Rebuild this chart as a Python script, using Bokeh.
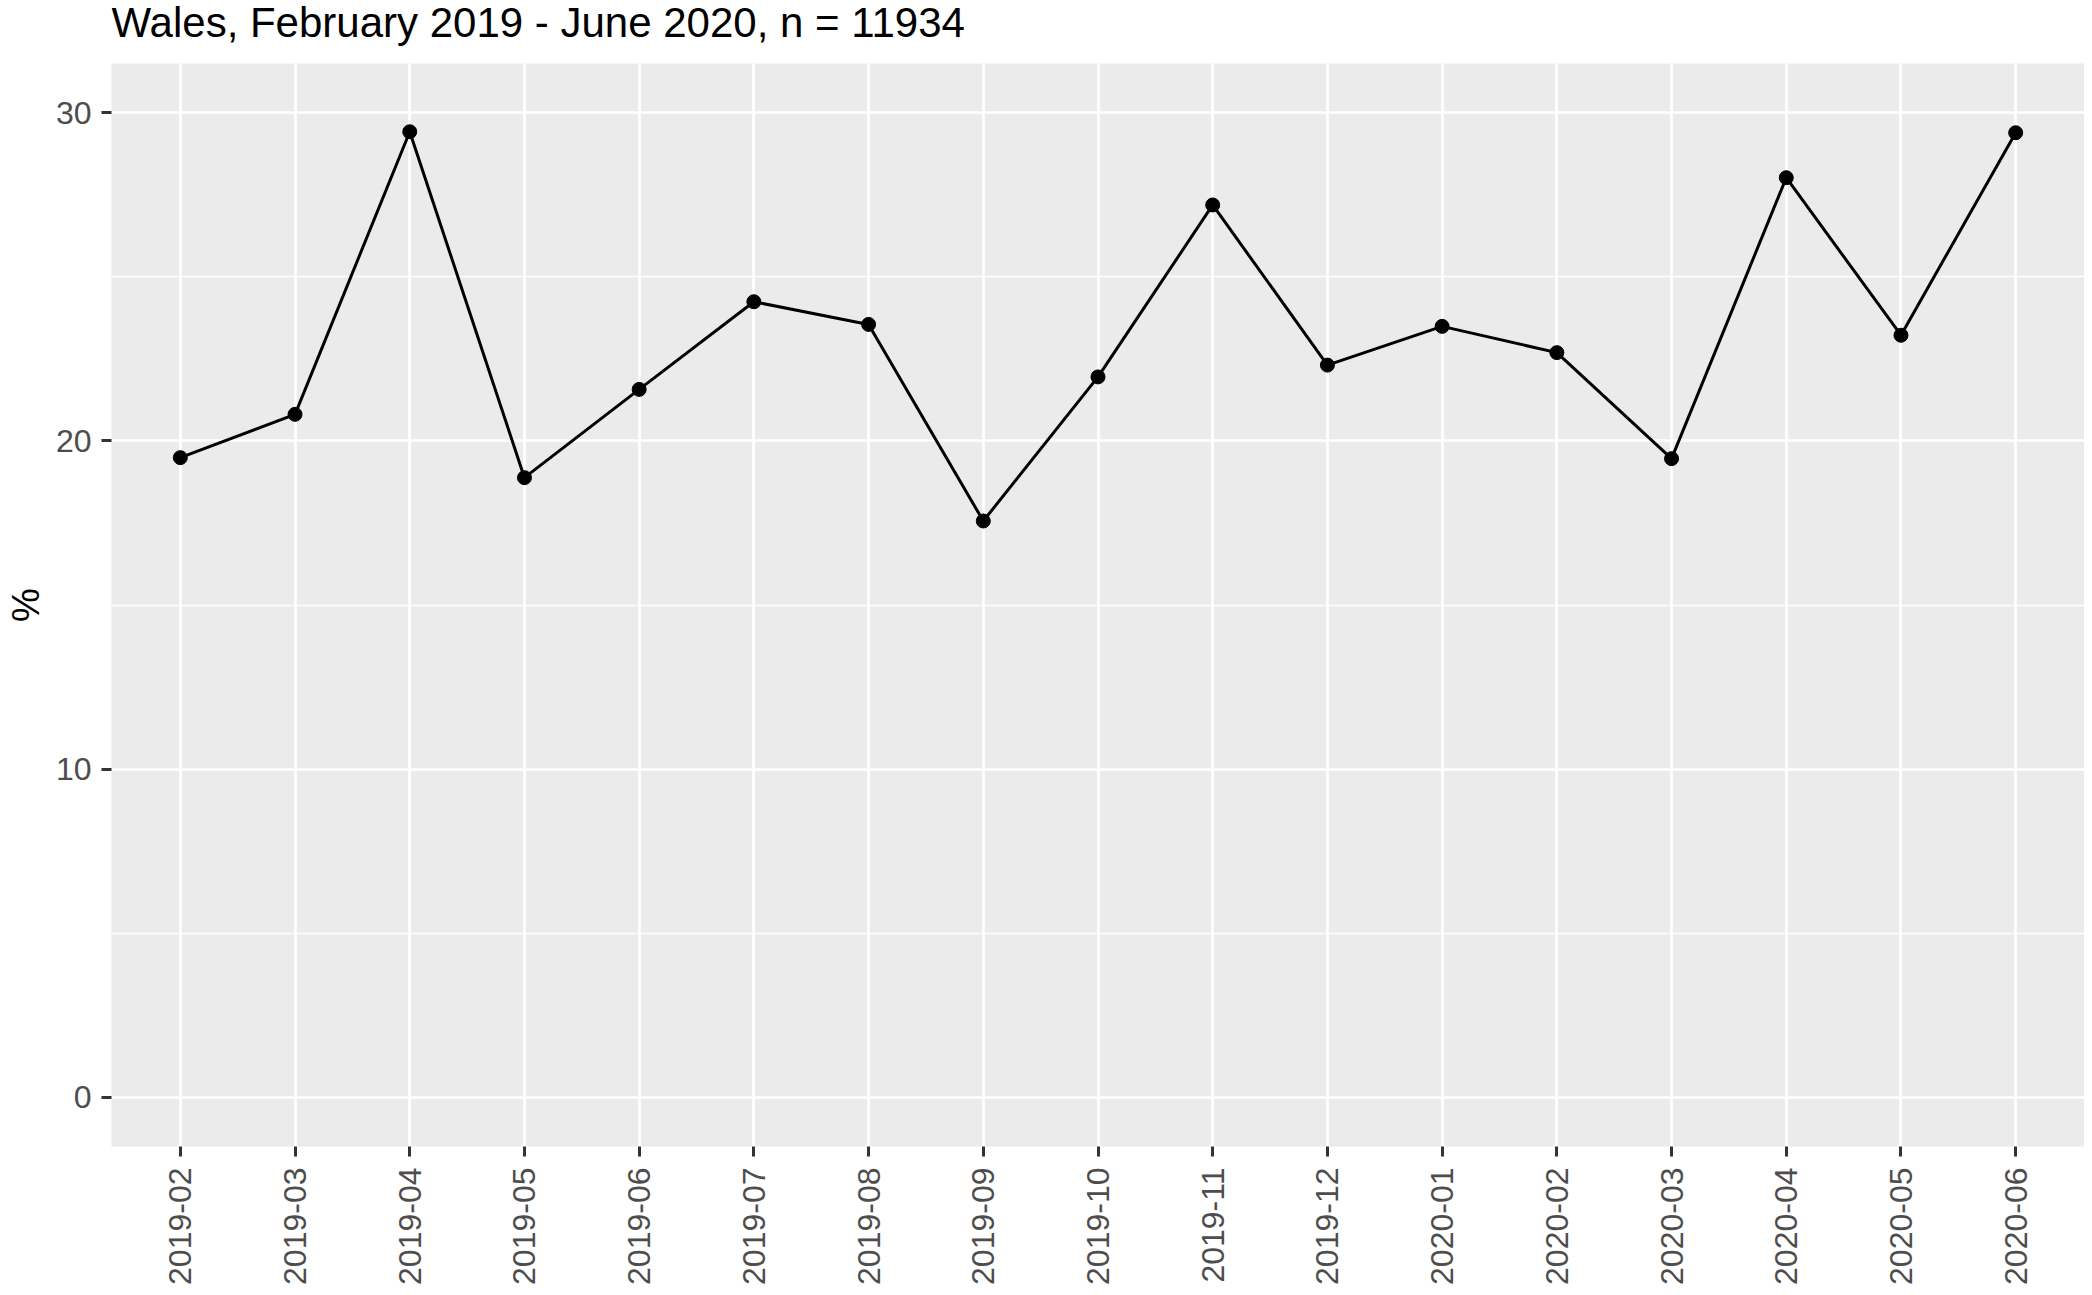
import math
from bokeh.plotting import figure
from bokeh.layouts import column
from bokeh.models import FactorRange, Range1d, FixedTicker
from bokeh.core.properties import value
from bokeh.embed import file_html
from bokeh.resources import INLINE

months = ["2019-02", "2019-03", "2019-04", "2019-05", "2019-06", "2019-07",
          "2019-08", "2019-09", "2019-10", "2019-11", "2019-12", "2020-01",
          "2020-02", "2020-03", "2020-04", "2020-05", "2020-06"]
pct = [19.49, 20.81, 29.42, 18.88, 21.57, 24.24, 23.55, 17.56, 21.95,
       27.19, 22.31, 23.49, 22.69, 19.46, 28.02, 23.22, 29.39]
y_ticks = [0, 10, 20, 30]
y_minor = [5, 15, 25]
title_text = "Wales, February 2019 - June 2020, n = 11934"
y_label = "%"

FONT = "Liberation Sans"
W = 2084
TITLE_H = 63
MAIN_H = 1290 - TITLE_H
LEFT = 111

# ---- title strip: a text-only figure whose frame is aligned with the panel ----
tp = figure(width=W, height=TITLE_H, x_range=Range1d(0, 1),
            y_range=Range1d(0, TITLE_H), x_axis_type=None, y_axis_type=None,
            output_backend="svg", toolbar_location=None,
            min_border_left=LEFT, min_border_right=0,
            min_border_top=0, min_border_bottom=0)
tp.grid.visible = False
tp.outline_line_color = None
tp.background_fill_color = "white"
tp.border_fill_color = "white"
tp.text(x=[0], y=[TITLE_H - 21.5], text=[title_text],
        text_font=value(FONT), text_font_size="42px", text_color="black",
        text_align="left", text_baseline="middle")

# ---- main panel ----
p = figure(width=W, height=MAIN_H,
           x_range=FactorRange(factors=months, range_padding=0.1,
                               range_padding_units="absolute"),
           y_range=Range1d(-1.5, 31.5),
           output_backend="svg", toolbar_location=None,
           min_border_left=LEFT, min_border_right=0,
           min_border_top=0, min_border_bottom=144)

p.background_fill_color = "#EBEBEB"
p.border_fill_color = "white"
p.outline_line_color = None

p.xgrid.grid_line_color = "white"
p.xgrid.grid_line_width = 2.7
p.ygrid.grid_line_color = "white"
p.ygrid.grid_line_width = 2.7
p.ygrid.minor_grid_line_color = "white"
p.ygrid.minor_grid_line_width = 1.4

p.yaxis.ticker = FixedTicker(ticks=y_ticks, minor_ticks=y_minor)

for ax in (p.xaxis, p.yaxis):
    ax.axis_line_color = None
    ax.major_tick_in = 0
    ax.major_tick_out = 10
    ax.major_tick_line_color = "#333333"
    ax.major_tick_line_width = 3
    ax.minor_tick_line_color = None
    ax.major_label_text_font = FONT
    ax.major_label_text_font_size = "32px"
    ax.major_label_text_color = "#4D4D4D"

p.xaxis.axis_label = None
p.xaxis.axis_label_standoff = 0
p.xaxis.major_label_standoff = 11
p.yaxis.major_label_standoff = 10
p.xaxis.major_label_orientation = math.pi / 2
p.yaxis.axis_label = y_label
p.yaxis.axis_label_text_font = FONT
p.yaxis.axis_label_text_font_size = "38px"
p.yaxis.axis_label_text_font_style = "normal"
p.yaxis.axis_label_text_color = "black"
p.yaxis.axis_label_standoff = 6

p.line(months, pct, line_color="black", line_width=3)
p.scatter(months, pct, size=14, fill_color="black", line_color="black")

layout = column(tp, p, spacing=0)
open("out.html", "w").write(file_html(layout, INLINE))
